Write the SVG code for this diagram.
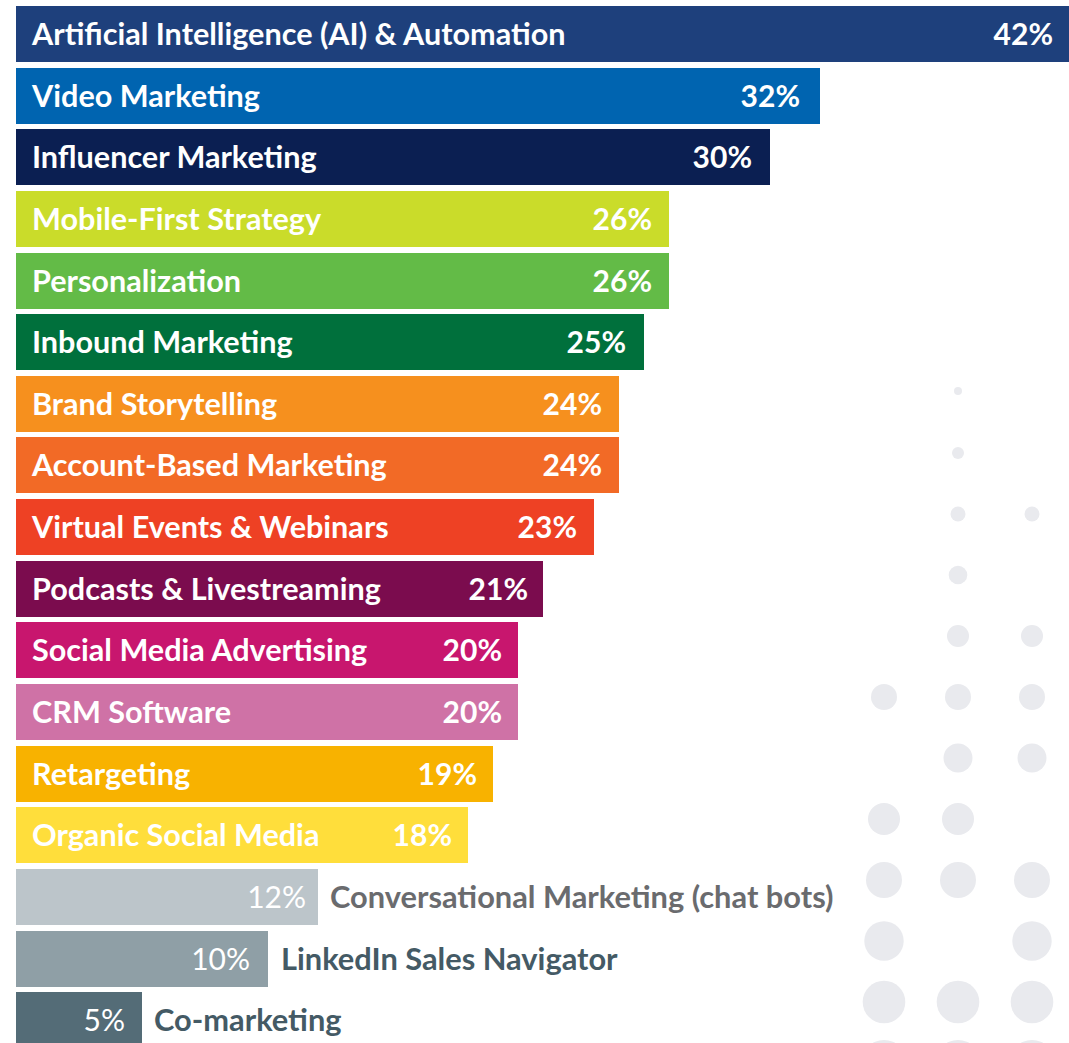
<svg xmlns="http://www.w3.org/2000/svg" width="1069" height="1043" viewBox="0 0 1069 1043">
<style>
.lbl{font-family:Lato,"Liberation Sans",sans-serif;font-size:30.6px;font-weight:700;fill:#fff}
.pct{font-family:Lato,"Liberation Sans",sans-serif;font-size:30px;font-weight:700;fill:#fff;text-anchor:end}
.pctl{font-family:Lato,"Liberation Sans",sans-serif;font-size:30px;font-weight:400;fill:#fff;text-anchor:end}
.out{font-family:Lato,"Liberation Sans",sans-serif;font-size:30.8px;font-weight:700}
.dot{fill:#e9eaee}
</style>
<rect width="1069" height="1043" fill="#fff"/>
<g id="dots">
<circle class="dot" cx="958" cy="391" r="4"/>
<circle class="dot" cx="958" cy="453" r="6"/>
<circle class="dot" cx="958" cy="514" r="7.5"/>
<circle class="dot" cx="1032" cy="514" r="7.5"/>
<circle class="dot" cx="958" cy="575" r="9.3"/>
<circle class="dot" cx="958" cy="636" r="11"/>
<circle class="dot" cx="1032" cy="636" r="11"/>
<circle class="dot" cx="884" cy="697" r="13"/>
<circle class="dot" cx="958" cy="697" r="13"/>
<circle class="dot" cx="1032" cy="697" r="13"/>
<circle class="dot" cx="958" cy="758" r="14.5"/>
<circle class="dot" cx="1032" cy="758" r="14.5"/>
<circle class="dot" cx="884" cy="819" r="16"/>
<circle class="dot" cx="958" cy="819" r="16"/>
<circle class="dot" cx="884" cy="880" r="18"/>
<circle class="dot" cx="958" cy="880" r="18"/>
<circle class="dot" cx="1032" cy="880" r="18"/>
<circle class="dot" cx="884" cy="941" r="19.7"/>
<circle class="dot" cx="1032" cy="941" r="19.7"/>
<circle class="dot" cx="884" cy="1002" r="21.3"/>
<circle class="dot" cx="958" cy="1002" r="21.3"/>
<circle class="dot" cx="1032" cy="1002" r="21.3"/>
<circle class="dot" cx="884" cy="1063" r="23"/>
<circle class="dot" cx="958" cy="1063" r="23"/>
<circle class="dot" cx="1032" cy="1063" r="23"/>
</g>
<g id="bar-ai"><rect x="16" y="6" width="1053" height="56" fill="#1e407c"/><text class="lbl" x="32" y="45">Artificial Intelligence (AI) &amp; Automation</text><text class="pct" x="1053" y="45">42%</text></g>
<g id="bar-video"><rect x="16" y="68" width="804" height="56" fill="#0064b0"/><text class="lbl" x="32" y="107">Video Marketing</text><text class="pct" x="800" y="107">32%</text></g>
<g id="bar-influencer"><rect x="16" y="129" width="754" height="56" fill="#0b1f52"/><text class="lbl" x="32" y="168">Influencer Marketing</text><text class="pct" x="752" y="168">30%</text></g>
<g id="bar-mobile"><rect x="16" y="191" width="653" height="56" fill="#cadc2a"/><text class="lbl" x="32" y="230">Mobile-First Strategy</text><text class="pct" x="652" y="230">26%</text></g>
<g id="bar-personalization"><rect x="16" y="253" width="653" height="56" fill="#63bb47"/><text class="lbl" x="32" y="292">Personalization</text><text class="pct" x="652" y="292">26%</text></g>
<g id="bar-inbound"><rect x="16" y="314" width="628" height="56" fill="#00703c"/><text class="lbl" x="32" y="353">Inbound Marketing</text><text class="pct" x="626" y="353">25%</text></g>
<g id="bar-brand"><rect x="16" y="376" width="603" height="56" fill="#f6901e"/><text class="lbl" x="32" y="415">Brand Storytelling</text><text class="pct" x="602" y="415">24%</text></g>
<g id="bar-abm"><rect x="16" y="437" width="603" height="56" fill="#f26a26"/><text class="lbl" x="32" y="476">Account-Based Marketing</text><text class="pct" x="602" y="476">24%</text></g>
<g id="bar-virtual"><rect x="16" y="499" width="578" height="56" fill="#ee4124"/><text class="lbl" x="32" y="538">Virtual Events &amp; Webinars</text><text class="pct" x="577" y="538">23%</text></g>
<g id="bar-podcasts"><rect x="16" y="561" width="527" height="56" fill="#7b0c4e"/><text class="lbl" x="32" y="600">Podcasts &amp; Livestreaming</text><text class="pct" x="528" y="600">21%</text></g>
<g id="bar-social-ads"><rect x="16" y="622" width="502" height="56" fill="#c8166e"/><text class="lbl" x="32" y="661">Social Media Advertising</text><text class="pct" x="502" y="661">20%</text></g>
<g id="bar-crm"><rect x="16" y="684" width="502" height="56" fill="#cf72a6"/><text class="lbl" x="32" y="723">CRM Software</text><text class="pct" x="502" y="723">20%</text></g>
<g id="bar-retargeting"><rect x="16" y="746" width="477" height="56" fill="#f8b200"/><text class="lbl" x="32" y="785">Retargeting</text><text class="pct" x="477" y="785">19%</text></g>
<g id="bar-organic"><rect x="16" y="807" width="452" height="56" fill="#ffde3b"/><text class="lbl" x="32" y="846">Organic Social Media</text><text class="pct" x="452" y="846">18%</text></g>
<g id="bar-conversational"><rect x="16" y="869" width="302" height="56" fill="#bcc5ca"/><text class="pctl" x="306" y="908">12%</text><text class="out" x="330" y="908" fill="#6a6b6e">Conversational Marketing (chat bots)</text></g>
<g id="bar-linkedin"><rect x="16" y="931" width="252" height="56" fill="#8f9fa6"/><text class="pctl" x="250" y="970">10%</text><text class="out" x="281" y="970" fill="#445a65">LinkedIn Sales Navigator</text></g>
<g id="bar-comarketing"><rect x="16" y="992" width="126" height="56" fill="#546c77"/><text class="pctl" x="125" y="1031">5%</text><text class="out" x="154" y="1031" fill="#445a65">Co-marketing</text></g>
<g id="connectors"/>
</svg>
